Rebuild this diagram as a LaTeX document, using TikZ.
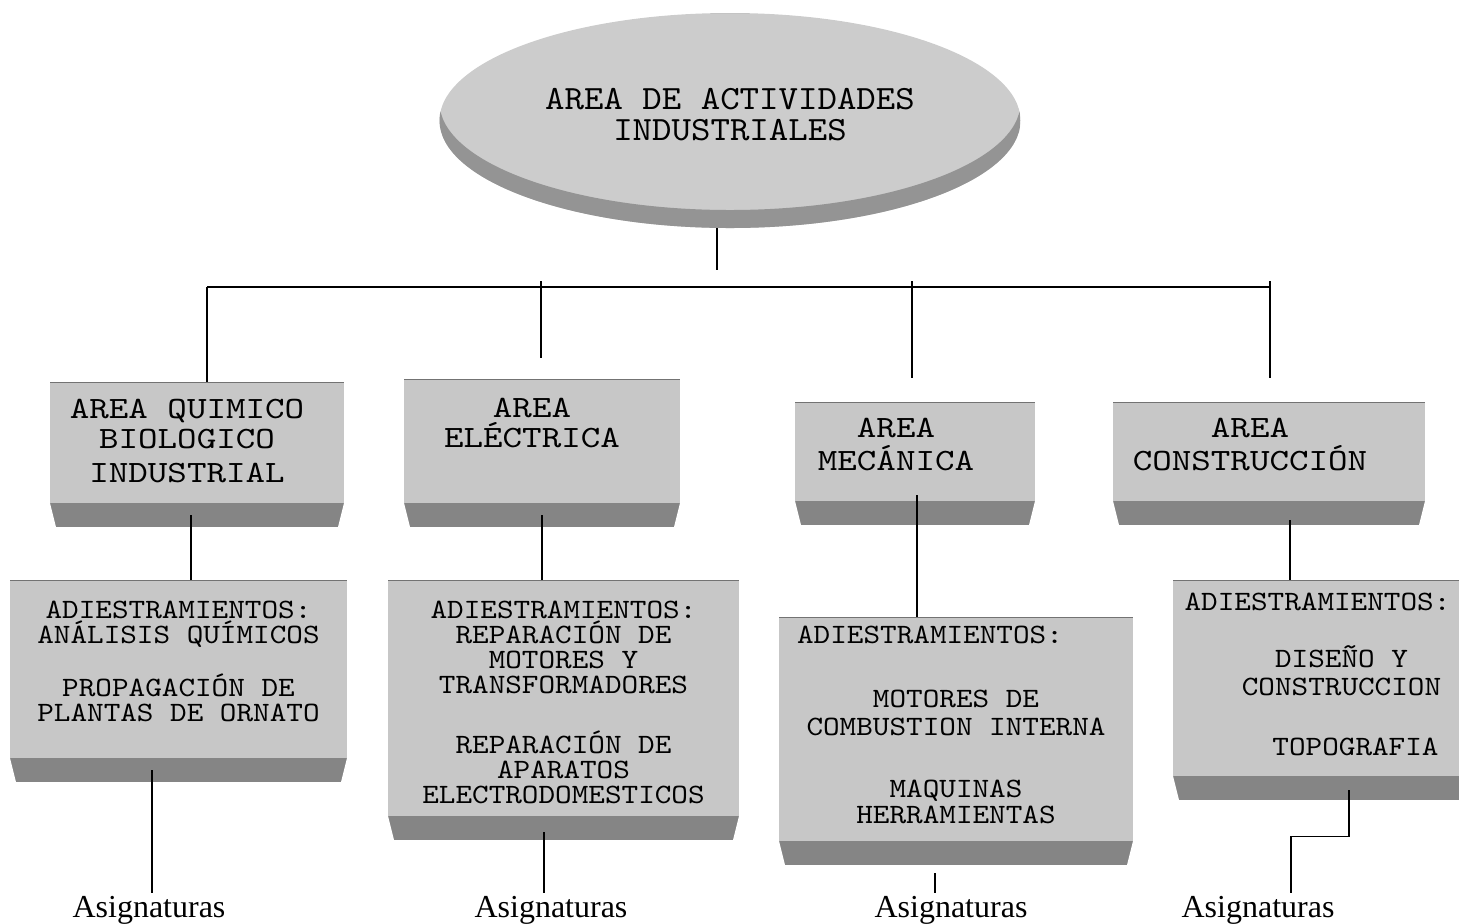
\documentclass[tikz,border=0pt]{standalone}
\usepackage{fontspec}
\usepackage{tikz}
\usetikzlibrary{shapes.geometric}
\newfontfamily\topfnt[FakeStretch=1.09]{lmmono10-regular.otf}
\newfontfamily\areafnt[FakeStretch=1.2]{lmmono10-regular.otf}
\newfontfamily\subfnt[FakeStretch=1.13]{lmmono10-regular.otf}
\newfontfamily\asigfnt{Liberation Serif}
\newcommand{\blktxt}[4]{\parbox[c][#2][t]{#1}{\centering\lineskiplimit=-50pt\vspace*{#3}#4\par}}

\begin{document}
\begin{tikzpicture}[x=0.5pt, y=-0.5pt,
                    topND/.style={ellipse,
                                  minimum width=290.5pt,
                                  minimum height=107.5pt,
                                  inner sep=0pt,
                                  align=center,
                                  fill=black!20,
                                  font=\topfnt\fontsize{17}{15.5}\selectfont,
                                  path picture={\fill[black!42, even odd rule]
                                      (path picture bounding box.south west) rectangle (path picture bounding box.north east)
                                      ([yshift=9pt]path picture bounding box.center) ellipse (145.25pt and 53.75pt);}},
                    areaND/.style={rectangle,
                                   inner sep=0pt,
                                   fill=black!22,
                                   font=\areafnt\fontsize{15.5}{16}\selectfont,
                                   path picture={
                                      \fill[black!48] (path picture bounding box.south west) rectangle ([yshift=12pt]path picture bounding box.south east);
                                      \fill[white] (path picture bounding box.south west) -- ++(0,12pt) -- ++(3pt,-12pt) -- cycle;
                                      \fill[white] (path picture bounding box.south east) -- ++(0,12pt) -- ++(-3pt,-12pt) -- cycle;
                                      \draw[black!55, line width=1pt] (path picture bounding box.north west) -- (path picture bounding box.north east);}},
                    subND/.style={areaND,
                                  font=\subfnt\fontsize{14}{12.5}\selectfont},
                    asigND/.style={anchor=base,
                                   inner sep=1pt,
                                   font=\asigfnt\fontsize{16}{19}\selectfont},
                    lnk/.style={line width=0.9pt}]
            \useasboundingbox (0,0) rectangle (1459,923);

            \node[topND](top) at (730,120.5) {AREA DE ACTIVIDADES\\INDUSTRIALES\rule[-6.6pt]{0pt}{6.6pt}};

            \node[areaND](quim) at (197,454.5) {\blktxt{147pt}{72.5pt}{8.5pt}{\hspace*{-10pt}AREA QUIMICO\\[-1pt]\hspace*{-10pt}BIOLOGICO\\[1pt]\hspace*{-10pt}INDUSTRIAL}};
            \node[areaND](elec) at (542,453)   {\blktxt{138pt}{74pt}{9.5pt}{\hspace*{-10pt}AREA\\[-1pt]\hspace*{-10pt}ELÉCTRICA}};
            \node[areaND](meca) at (915,463.5) {\blktxt{120pt}{61.5pt}{8pt}{\hspace*{-19pt}AREA\\[0.5pt]\hspace*{-19pt}MECÁNICA}};
            \node[areaND](cons) at (1269,463.5){\blktxt{156pt}{61.5pt}{8pt}{\hspace*{-19pt}AREA\\[0.5pt]\hspace*{-19pt}CONSTRUCCIÓN}};

            \node[subND](adQ) at (178.5,681) {\blktxt{168.5pt}{101pt}{10.5pt}{ADIESTRAMIENTOS:\\ANÁLISIS QUÍMICOS\\[14pt]PROPAGACIÓN DE\\PLANTAS DE ORNATO}};
            \node[subND](adE) at (563.5,710) {\blktxt{175.5pt}{130pt}{10.5pt}{ADIESTRAMIENTOS:\\REPARACIÓN DE\\MOTORES Y\\TRANSFORMADORES\\[17.5pt]REPARACIÓN DE\\APARATOS\\ELECTRODOMESTICOS}};
            \node[subND](adM) at (956,741)   {\blktxt{177pt}{124pt}{4.5pt}{\hspace*{-26pt}ADIESTRAMIENTOS:\\[19.5pt]MOTORES DE\\[1.5pt]COMBUSTION INTERNA\\[18.5pt]MAQUINAS\\[0.5pt]HERRAMIENTAS}};
            \node[subND](adC) at (1331.5,690){\blktxt{158.5pt}{110pt}{6.5pt}{\hspace*{-14pt}ADIESTRAMIENTOS:\\[16pt]\hspace*{10pt}DISEÑO Y\\[1.5pt]\hspace*{10pt}CONSTRUCCION\\[17.5pt]\hspace*{24pt}TOPOGRAFIA}};

            \node[asigND](as1) at (149,917)  {Asignaturas};
            \node[asigND](as2) at (551,917)  {Asignaturas};
            \node[asigND](as3) at (951,917)  {Asignaturas};
            \node[asigND](as4) at (1258,917) {Asignaturas};

            \coordinate (busL) at (207,287);
            \coordinate (busR) at (1270,287);
            \coordinate (tEl) at (541,281);
            \coordinate (tMe) at (912,281);
            \coordinate (tCo) at (1270,281);

            \draw[lnk] ([xshift=-6.5pt]top.south) -- ++(0,-21pt);
            \draw[lnk] (busL) -- (busR);
            \draw[lnk] (busL) -- (busL |- quim.north);
            \draw[lnk] (tEl) -- ([yshift=10.5pt]tEl |- elec.north);
            \draw[lnk] (tMe) -- ([yshift=12pt]tMe |- meca.north);
            \draw[lnk] (tCo) -- ([yshift=12pt]tCo |- cons.north);

            \draw[lnk] ([xshift=-3pt,yshift=6pt]quim.south) -- ([xshift=-3pt]quim.south |- adQ.north);
            \draw[lnk] ([yshift=6pt]elec.south) -- (elec.south |- adE.north);
            \draw[lnk] ([xshift=1pt,yshift=15pt]meca.south) -- ([xshift=1pt]meca.south |- adM.north);
            \draw[lnk] ([xshift=10.5pt,yshift=2.5pt]cons.south) -- ([xshift=10.5pt]cons.south |- adC.north);

            \draw[lnk] ([xshift=-13.25pt,yshift=6pt]adQ.south) -- ([xshift=-13.25pt]adQ.south |- as1.north);
            \draw[lnk] ([xshift=-9.75pt,yshift=4pt]adE.south) -- ([xshift=-9.75pt]adE.south |- as2.north);
            \draw[lnk] ([xshift=-10.5pt,yshift=-4pt]adM.south) -- ([xshift=-10.5pt]adM.south |- as3.north);
            \draw[lnk] ([xshift=8.75pt,yshift=5pt]adC.south) -- ++(0,-23pt) -| ([xshift=16.5pt]as4.north);
        \end{tikzpicture}
\end{document}
